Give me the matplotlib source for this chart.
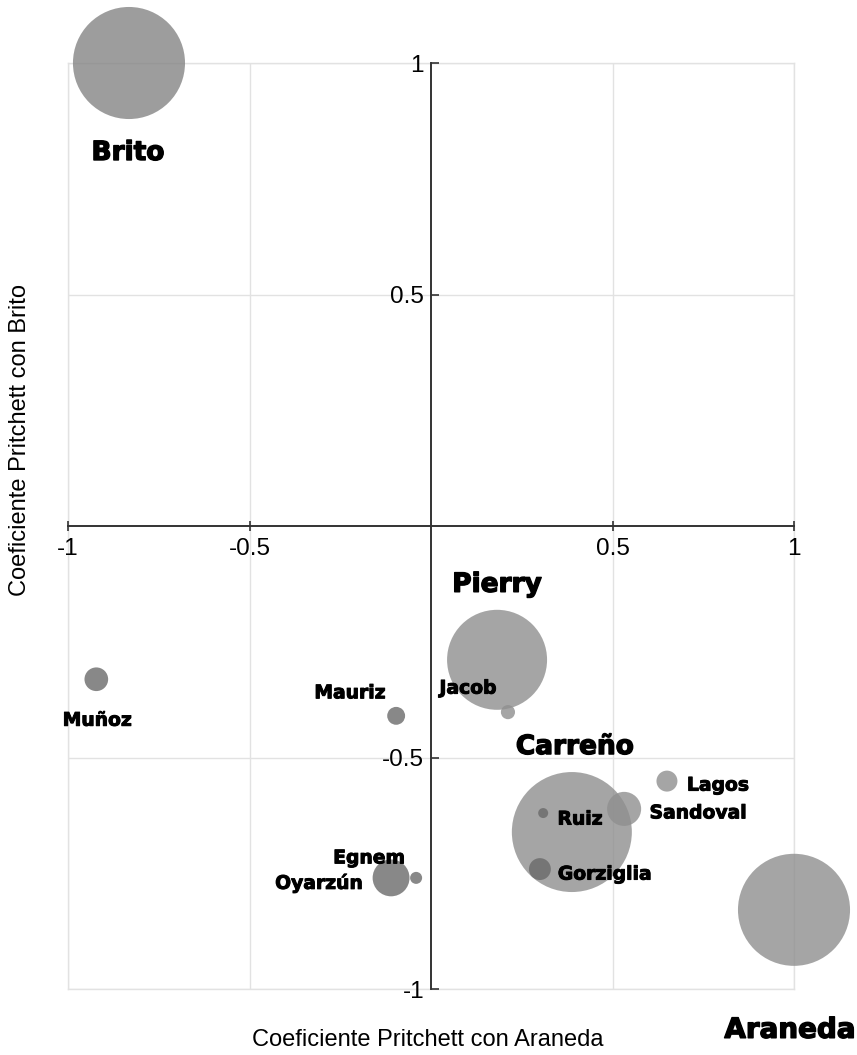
import numpy as np
import matplotlib.pyplot as plt
import matplotlib.patheffects as pe

# Legisladores: coeficiente Pritchett con Araneda (x) y con Brito (y)
nombres = ['Brito', 'Pierry', 'Jacob', 'Mauriz', 'Muñoz', 'Oyarzún', 'Egnem',
           'Carreño', 'Ruiz', 'Sandoval', 'Lagos', 'Gorziglia', 'Araneda']
x_araneda = [-0.832, 0.182, 0.212, -0.096, -0.922, -0.110, -0.041,
             0.388, 0.309, 0.532, 0.650, 0.300, 1.000]
y_brito = [1.000, -0.289, -0.402, -0.410, -0.331, -0.760, -0.760,
           -0.661, -0.620, -0.611, -0.551, -0.741, -0.829]
# tamaño relativo de cada burbuja (area)
tamano = [31.4, 25.0, 0.5, 0.8, 1.4, 3.4, 0.36,
          36.0, 0.25, 2.9, 1.1, 1.2, 31.4]

ticks = [-1, -0.5, 0.5, 1]
tick_labels = ['-1', '-0.5', '0.5', '1']

# estilo de las etiquetas: desplazamiento en pixeles y tamaño de letra
offsets = {
    'Brito': (-1, -90, 19), 'Pierry': (0, 75, 19), 'Jacob': (-40, 24, 13.5),
    'Mauriz': (-46, 23, 13.5), 'Muñoz': (1, -41, 13.5), 'Oyarzún': (-72, -5, 13.5),
    'Egnem': (-47, 20, 13.5), 'Carreño': (3, 85, 19), 'Ruiz': (37, -6, 13.5),
    'Sandoval': (74, -4, 13.5), 'Lagos': (51, -4, 13.5), 'Gorziglia': (65, -5, 13.5),
    'Araneda': (-4, -120, 20),
}
oscuros = ['Mauriz', 'Muñoz', 'Oyarzún', 'Egnem', 'Gorziglia', 'Ruiz']
claros = ['Jacob', 'Lagos', 'Sandoval', 'Pierry', 'Carreño', 'Araneda']

fig = plt.figure(figsize=(8.57, 10.55), dpi=100)
ax = fig.add_axes([68 / 857, 1 - 989 / 1055, 726 / 857, 926 / 1055])

colores = []
for n in nombres:
    if n in oscuros:
        colores.append('#6a6a6a')
    elif n in claros:
        colores.append('#8f8f8f')
    else:
        colores.append('#858585')

# radio en px -> area en puntos^2
s = (np.sqrt(np.array(tamano) * 100) * 2 * 0.72) ** 2
ax.scatter(x_araneda, y_brito, s=s, c=colores, alpha=0.8, edgecolors='none',
           clip_on=False, zorder=3)

for n, x, y in zip(nombres, x_araneda, y_brito):
    dx, dy, fs = offsets[n]
    grosor = 1.0 if fs > 15 else 0.7
    ax.annotate(n, (x, y), xytext=(dx, dy), textcoords='offset pixels',
                ha='center', va='center', fontsize=fs, fontweight='bold',
                family='DejaVu Sans', color='black', zorder=4,
                annotation_clip=False,
                path_effects=[pe.withStroke(linewidth=grosor, foreground='black')])

ax.set_xlim(-1, 1)
ax.set_ylim(-1, 1)
ax.spines['left'].set_position('zero')
ax.spines['bottom'].set_position('zero')
ax.spines['top'].set_visible(False)
ax.spines['right'].set_visible(False)
for sp in ['left', 'bottom']:
    ax.spines[sp].set_color('#333333')
    ax.spines[sp].set_linewidth(1.4)
    ax.spines[sp].set_zorder(2)

ax.set_xticks(ticks)
ax.set_xticklabels(tick_labels, family='Liberation Sans', fontsize=17.5)
ax.set_yticks(ticks)
ax.set_yticklabels(tick_labels, family='Liberation Sans', fontsize=17.5)
ax.tick_params(axis='x', direction='inout', length=7, width=1.2, color='#333333', pad=5)
ax.tick_params(axis='y', direction='in', length=6, width=1.2, color='#333333', pad=5)

ax.grid(True, color='#e2e2e2', linewidth=1, zorder=0)
ax.set_axisbelow(True)
# bordes de la cuadricula en los limites
for v in [-1, 1]:
    ax.axhline(v, color='#e2e2e2', lw=1, zorder=0, clip_on=False)
    ax.axvline(v, color='#e2e2e2', lw=1, zorder=0, clip_on=False)

fig.text(428 / 857, 1 - 1040 / 1055, 'Coeficiente Pritchett con Araneda',
         ha='center', va='center', fontsize=17, family='Liberation Sans')
fig.text(20 / 857, 1 - 440 / 1055, 'Coeficiente Pritchett con Brito',
         ha='center', va='center', rotation=90, fontsize=17, family='Liberation Sans')

fig.savefig('out.png', dpi=100)
